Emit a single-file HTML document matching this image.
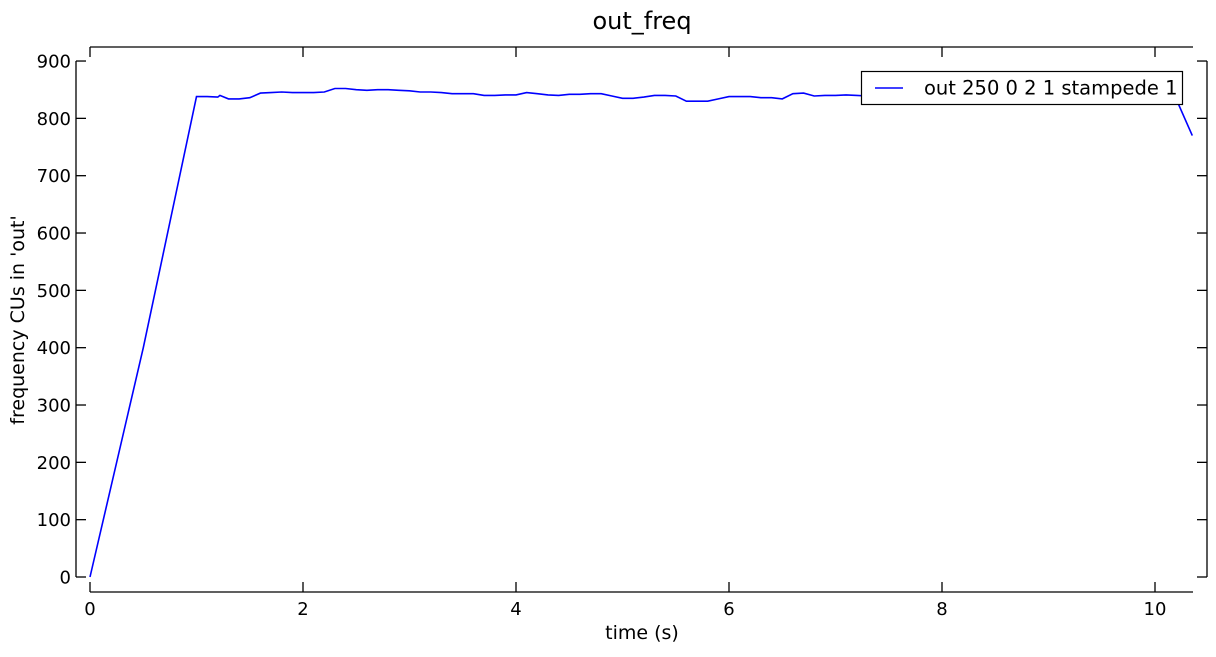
<!DOCTYPE html>
<html><head><meta charset="utf-8"><style>
body{margin:0;background:#fff}
svg text{font-family:"DejaVu Sans","Liberation Sans",sans-serif;fill:#000}
</style></head><body>
<svg id="chart" width="1216" height="652" xmlns="http://www.w3.org/2000/svg">
<text x="642" y="29" font-size="24" text-anchor="middle">out_freq</text>
<text x="642" y="639" font-size="19" text-anchor="middle">time (s)</text>
<text transform="translate(24,320) rotate(-90)" font-size="19" text-anchor="middle">frequency CUs in 'out'</text>
<g id="axes" stroke="#000" stroke-width="1.3" fill="none"></g>
<g id="ticks" font-size="18"></g>
<path id="series" fill="none" stroke="#0000ff" stroke-width="1.6"/>
<g>
<rect x="861.5" y="71.5" width="321" height="33" fill="#fff" stroke="#000" stroke-width="1.2"/>
<line x1="875" y1="88" x2="903" y2="88" stroke="#0000ff" stroke-width="1.4"/>
<text x="924" y="94.5" font-size="19.5">out 250 0 2 1 stampede 1</text>
</g>
</svg>
<script>
const times=[0,0.5,1.0,1.1,1.2,1.22,1.3,1.4,1.5,1.6,1.7,1.8,1.9,2.0,2.1,2.2,2.3,2.4,2.5,2.6,2.7,2.8,2.9,3.0,3.1,3.2,3.3,3.4,3.5,3.6,3.7,3.8,3.9,4.0,4.1,4.2,4.3,4.4,4.5,4.6,4.7,4.8,4.9,5.0,5.1,5.2,5.3,5.4,5.5,5.6,5.7,5.8,5.9,6.0,6.1,6.2,6.3,6.4,6.5,6.6,6.7,6.8,6.9,7.0,7.1,7.2,7.3,7.6,8.0,8.5,9.0,9.5,10.0,10.1,10.22,10.35];
const values=[0,400,838,838,837,840,834,834,836,844,845,846,845,845,845,846,852,852,850,849,850,850,849,848,846,846,845,843,843,843,840,840,841,841,845,843,841,840,842,842,843,843,839,835,835,837,840,840,839,830,830,830,834,838,838,838,836,836,834,843,844,839,840,840,841,840,839,838,838,838,838,838,838,840,825,770];
const xTicks=[0,2,4,6,8,10];
const yTicks=[0,100,200,300,400,500,600,700,800,900];
const X=t=>90+t*106.5;
const Y=v=>577-v*0.5733;
const NS="http://www.w3.org/2000/svg";
function mk(tag,attrs,parent){const e=document.createElementNS(NS,tag);for(const k in attrs)e.setAttribute(k,attrs[k]);parent.appendChild(e);return e;}
const axes=document.getElementById('axes'),ticks=document.getElementById('ticks');
let s=mk('line',{x1:76,y1:Y(900),x2:76,y2:Y(0)},axes);


s=mk('line',{x1:1207,y1:Y(900),x2:1207,y2:Y(0)},axes);


s=mk('line',{x1:X(0),y1:47,x2:1193,y2:47},axes);


s=mk('line',{x1:X(0),y1:592,x2:1193,y2:592},axes);


yTicks.forEach(v=>{
 const y=Y(v);
 let t=mk('line',{x1:76,y1:y,x2:86,y2:y},axes);
 
 
 t=mk('line',{x1:1197,y1:y,x2:1207,y2:y},axes);
 
 
 const l=mk('text',{x:71,y:y+6.5,'text-anchor':'end'},ticks);l.textContent=v;
 
 
});
xTicks.forEach(v=>{
 const x=X(v);
 let t=mk('line',{x1:x,y1:592,x2:x,y2:582},axes);
 
 
 t=mk('line',{x1:x,y1:47,x2:x,y2:57},axes);
 
 
 const l=mk('text',{x:x,y:615,'text-anchor':'middle'},ticks);l.textContent=v;
 
 
});
document.getElementById('series').setAttribute('d',times.map((t,i)=>(i?'L':'M')+X(t).toFixed(1)+','+Y(values[i]).toFixed(1)).join(''));
</script>
</body></html>
